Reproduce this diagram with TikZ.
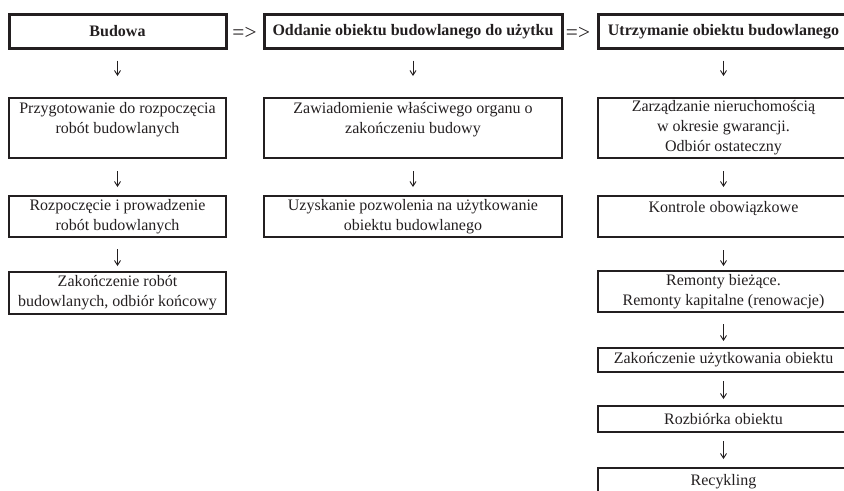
\documentclass[tikz,border=0pt]{standalone}
\usepackage{fontspec}
\setmainfont{Liberation Serif}
\usepackage{tikz}
\usetikzlibrary{arrows.meta}
\definecolor{BoxBlack}{RGB}{35,31,32}
\tikzset{
  box/.style={draw=BoxBlack, text=BoxBlack, line width=1.5pt, align=center,
              inner sep=0pt, font=\fontsize{12}{15}\selectfont},
  head/.style={box, line width=2.25pt, font=\fontsize{12}{15}\selectfont\bfseries},
  colA/.style={minimum width=162.75pt},
  colB/.style={minimum width=223.5pt},
  colC/.style={minimum width=188.25pt},
  implies/.style={text=BoxBlack, inner sep=0pt, font=\fontsize{16}{18}\selectfont},
  flowarrow/.style 2 args={-{Straight Barb[length=3.5pt,width=4.5pt]}, line width=0.7pt,
              BoxBlack, shorten <=#1, shorten >=#2}
}

\begin{document}
\begin{tikzpicture}[x=0.75pt, y=-0.75pt]
      \useasboundingbox (0,0) rectangle (844,490);
      \node[head, colA, minimum height=25.5pt] (bud1) at (117.5,31.5) {Budowa};
      \node[head, colB, minimum height=25.5pt] (odd1) at (413,31.5) {Oddanie obiektu budowlanego do użytku};
      \node[head, colC, minimum height=25.5pt] (utr1) at (723.5,31.5) {Utrzymanie obiektu budowlanego};
      \node[implies] (impl1) at (244.5,33.5) {=>};
      \node[implies] (impl2) at (578,33.5) {=>};

      \node[box, colA, minimum height=45pt] (bud2) at (117.5,128) {Przygotowanie do rozpoczęcia\\robót budowlanych\\\mbox{}};
      \node[box, colA, minimum height=30.75pt] (bud3) at (117.5,216.5) {Rozpoczęcie i prowadzenie\\robót budowlanych};
      \node[box, colA, minimum height=31.5pt] (bud4) at (117.5,293) {Zakończenie robót\\budowlanych, odbiór końcowy};

      \node[box, colB, minimum height=45pt] (odd2) at (413,128) {Zawiadomienie właściwego organu o\\zakończeniu budowy\\\mbox{}};
      \node[box, colB, minimum height=30.75pt] (odd3) at (413,216.5) {Uzyskanie pozwolenia na użytkowanie\\obiektu budowlanego};

      \node[box, colC, minimum height=45pt] (utr2) at (723.5,128) {Zarządzanie nieruchomością\\w okresie gwarancji.\\Odbiór ostateczny};
      \node[box, colC, minimum height=30.75pt] (utr3) at (723.5,216.5) {Kontrole obowiązkowe\\\mbox{}};
      \node[box, colC, minimum height=30.75pt] (utr4) at (723.5,291.5) {Remonty bieżące.\\Remonty kapitalne (renowacje)};
      \node[box, colC, minimum height=18pt] (utr5) at (723.5,360) {Zakończenie użytkowania obiektu};
      \node[box, colC, minimum height=19.5pt] (utr6) at (723.5,419) {Rozbiórka obiektu};
      \node[box, colC, minimum height=21pt] (utr7) at (723.5,482) {Recykling};

      \foreach \a/\b/\s/\t in {
        bud1/bud2/8/15.75, bud2/bud3/9/6, bud3/bud4/8.25/3.75,
        odd1/odd2/8/15.75, odd2/odd3/9/6,
        utr1/utr2/8/15.75, utr2/utr3/9/6, utr3/utr4/9/3,
        utr4/utr5/8.25/4.5, utr5/utr6/6/4.5, utr6/utr7/6/6}{
        \draw[flowarrow={\s pt}{\t pt}] (\a) -- (\b);
      }
    \end{tikzpicture}
\end{document}
